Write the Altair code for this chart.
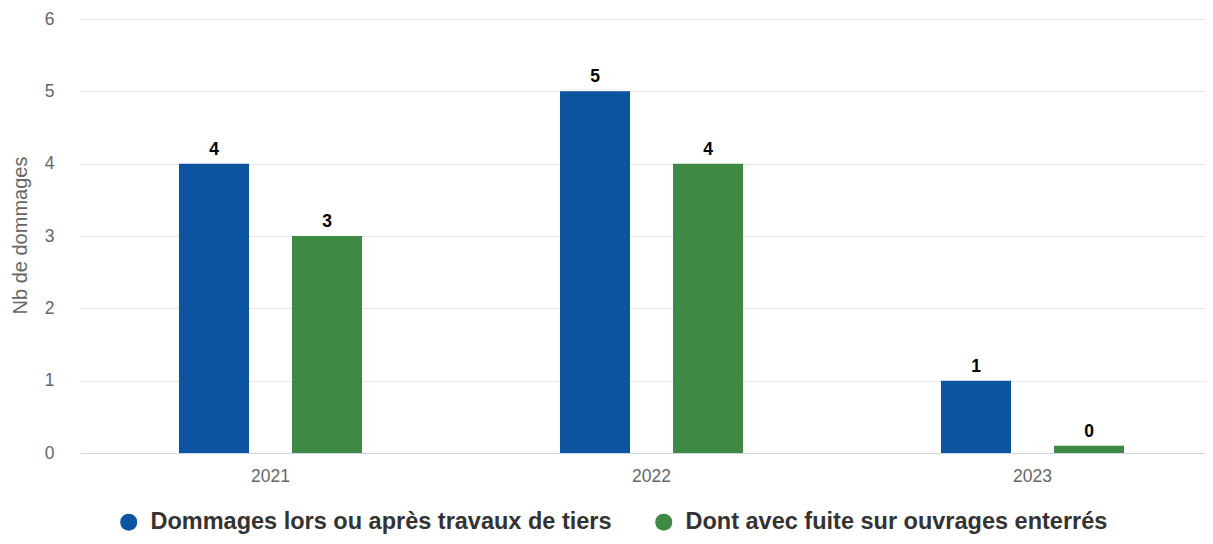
import altair as alt
import pandas as pd

years = ["2021", "2022", "2023"]
series = ["Dommages lors ou après travaux de tiers", "Dont avec fuite sur ouvrages enterrés"]
blue_values = [4, 5, 1]
green_values = [3, 4, 0]
colors = ["#0C54A0", "#3E8943"]
y_ticks = [0, 1, 2, 3, 4, 5, 6]

rows = []
for i, y in enumerate(years):
    rows.append({"year": y, "serie": series[0], "value": blue_values[i]})
    rows.append({"year": y, "serie": series[1], "value": green_values[i]})
df = pd.DataFrame(rows)

FONT = "Liberation Sans"

base = alt.Chart(df).transform_calculate(
    shown="datum.value === 0 ? 0.1 : datum.value"
).encode(
    x=alt.X("year:N", sort=years,
            scale=alt.Scale(paddingInner=0, paddingOuter=0),
            axis=alt.Axis(title=None, labelAngle=0, labelFontSize=17.5, labelColor="#666666",
                          labelFont=FONT, labelPadding=14, ticks=False,
                          domainColor="#ccd6eb", domainWidth=1, grid=False)),
    xOffset=alt.XOffset("serie:N", sort=series,
                        scale=alt.Scale(paddingInner=0.3805, paddingOuter=0.876)),
)

bars = base.mark_bar().encode(
    y=alt.Y("shown:Q",
            scale=alt.Scale(domain=[0, 6], nice=False),
            axis=alt.Axis(values=y_ticks, format="d", title="Nb de dommages", titleFont=FONT,
                          titleFontSize=20, titleFontWeight="normal", titleColor="#666666",
                          titleAngle=-90, titleX=-60, titleY=216, titleAlign="center",
                          titleBaseline="middle",
                          labelFontSize=17.5, labelColor="#666666", labelFont=FONT,
                          labelPadding=26, ticks=False, domain=False,
                          gridColor="#e6e6e6", gridWidth=1)),
    color=alt.Color("serie:N", sort=series,
                    scale=alt.Scale(domain=series, range=colors),
                    legend=alt.Legend(title=None, orient="none", direction="horizontal",
                                      legendX=37, legendY=491, symbolType="circle",
                                      symbolSize=289, symbolStrokeWidth=0,
                                      labelFont=FONT, labelFontSize=23.5, labelFontWeight="bold",
                                      labelColor="#333333", labelOffset=10, labelLimit=900,
                                      columnPadding=40, padding=0)),
)

labels = base.mark_text(dy=-9, baseline="alphabetic", fontSize=17.5, fontWeight="bold",
                        font=FONT, color="#000000").encode(
    y=alt.Y("shown:Q"),
    text=alt.Text("value:Q"),
)

chart = alt.layer(bars, labels).properties(
    width=1143, height=434,
    autosize=alt.AutoSizeParams(type="none"),
    padding={"left": 72, "top": 11, "right": -18, "bottom": 83},
).configure_view(stroke=None)

chart.save("out.html", embed_options={"renderer": "svg", "actions": False})
